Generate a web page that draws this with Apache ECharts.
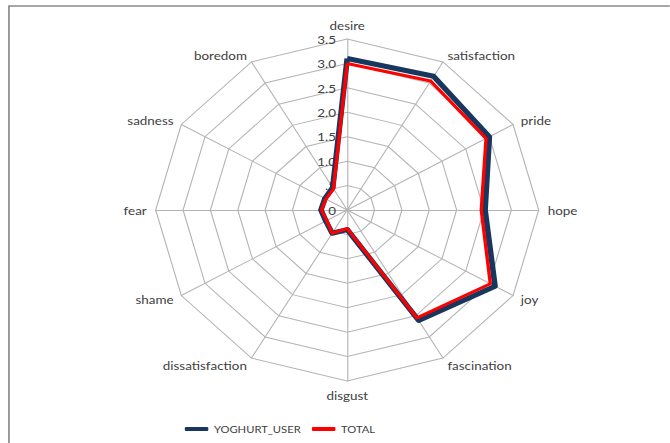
<!DOCTYPE html>
<html>
<head>
<meta charset="utf-8">
<script src="https://cdn.jsdelivr.net/npm/echarts@6/dist/echarts.min.js"></script>
<style>
  html, body { margin: 0; padding: 0; background: #fff; overflow: hidden; }
  /* the original picture is stretched sideways, so the chart is drawn narrow and widened */
  #chart { width: 598px; height: 443px; transform: scaleX(1.12); transform-origin: 0 0; }
</style>
</head>
<body>
<div id="chart"></div>
<script>
const categories = ['desire', 'satisfaction', 'pride', 'hope', 'joy', 'fascination',
  'disgust', 'dissatisfaction', 'shame', 'fear', 'sadness', 'boredom'];
const yoghurtUser = [3.1, 3.16, 3.0, 2.52, 3.12, 2.61, 0.4, 0.55, 0.45, 0.48, 0.47, 0.53];
const total = [3.0, 3.05, 2.93, 2.45, 3.02, 2.55, 0.38, 0.55, 0.43, 0.47, 0.45, 0.5];
const tickLabels = ['0', '.5', '1.0', '1.5', '2.0', '2.5', '3.0', '3.5'];

// echarts radar goes counter-clockwise; the original goes clockwise from the top
const order = categories.map((c, i) => (i === 0 ? 0 : categories.length - i));
const reorder = arr => order.map(i => arr[i]);

const font = "Lato, 'Noto Sans', sans-serif";
const gridColor = '#b4b4b4';

const chart = echarts.init(document.getElementById('chart'), null, { renderer: 'svg' });

const option = {
  animation: false,
  backgroundColor: '#fff',
  graphic: [{
    type: 'rect',
    shape: { x: 8, y: 6, width: 700, height: 500 },
    style: { fill: 'none', stroke: '#8a8a8a', lineWidth: 1.5 },
    silent: true
  }],
  legend: {
    data: ['YOGHURT_USER', 'TOTAL'],
    left: 160,
    top: 419,
    icon: 'roundRect',
    itemWidth: 21,
    itemHeight: 4,
    itemGap: 10,
    textStyle: { color: '#404040', fontSize: 10, fontFamily: font }
  },
  radar: {
    center: [310, 210],
    radius: 171,
    startAngle: 90,
    shape: 'polygon',
    splitNumber: 7,
    nameGap: 8,
    axisName: { color: '#404040', fontSize: 12, fontFamily: font },
    indicator: order.map((idx, i) => ({
      name: categories[idx],
      min: 0,
      max: 3.5,
      axisLabel: i === 0 ? {
        show: true,
        color: '#404040',
        fontSize: 12,
        fontFamily: font,
        margin: 10,
        formatter: v => tickLabels[Math.round(v / 0.5)]
      } : { show: false }
    })),
    splitArea: { show: false },
    splitLine: { lineStyle: { color: gridColor, width: 1 } },
    axisLine: { lineStyle: { color: gridColor, width: 1 } },
    axisTick: { show: false }
  },
  series: [{
    type: 'radar',
    symbol: 'none',
    data: [
      {
        name: 'YOGHURT_USER',
        value: reorder(yoghurtUser),
        lineStyle: { color: '#17375e', width: 5 },
        itemStyle: { color: '#17375e' }
      },
      {
        name: 'TOTAL',
        value: reorder(total),
        lineStyle: { color: '#ff0000', width: 3 },
        itemStyle: { color: '#ff0000' }
      }
    ]
  }]
};

chart.setOption(option);
</script>
</body>
</html>
